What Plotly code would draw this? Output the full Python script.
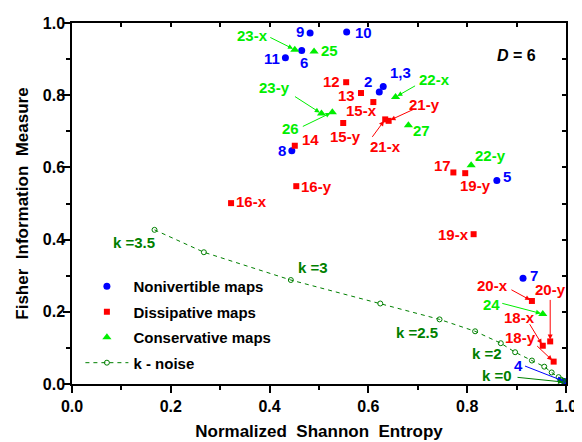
import plotly.graph_objects as go

# ---- data ----
nonivert_labels = ["9", "10", "6", "11", "2", "1,3", "8", "5", "7", "4"]
nonivert_x = [0.482, 0.556, 0.465, 0.432, 0.622, 0.630, 0.445, 0.860, 0.913, 0.997]
nonivert_y = [0.972, 0.975, 0.924, 0.904, 0.809, 0.824, 0.646, 0.564, 0.293, 0.007]

dissip_labels = ["12", "13", "15-x", "15-y", "14", "21-x", "21-y", "17", "19-y", "19-x",
                 "16-y", "16-x", "20-x", "20-y", "18-x", "18-y"]
dissip_x = [0.555, 0.585, 0.610, 0.549, 0.451, 0.634, 0.641, 0.772, 0.796, 0.813,
            0.454, 0.322, 0.931, 0.968, 0.953, 0.975]
dissip_y = [0.836, 0.806, 0.781, 0.723, 0.660, 0.733, 0.729, 0.586, 0.584, 0.415,
            0.548, 0.501, 0.230, 0.118, 0.106, 0.062]

conserv_labels = ["23-x", "25", "22-x", "23-y", "26", "27", "22-y", "24"]
conserv_x = [0.451, 0.490, 0.655, 0.505, 0.527, 0.681, 0.808, 0.953]
conserv_y = [0.926, 0.921, 0.795, 0.749, 0.753, 0.717, 0.606, 0.194]

noise_k = [3.5, 3.25, 3.0, 2.75, 2.5, 2.25, 2.0, 1.75, 1.5, 1.25, 1.0, 0.75, 0.5, 0.25, 0.0]
noise_x = [0.167, 0.267, 0.443, 0.624, 0.744, 0.816, 0.868, 0.897, 0.931, 0.956,
           0.971, 0.985, 0.990, 0.994, 0.998]
noise_y = [0.427, 0.365, 0.288, 0.223, 0.179, 0.146, 0.113, 0.088, 0.065, 0.048,
           0.032, 0.019, 0.012, 0.009, 0.005]
noise_label_k = [3.5, 3.0, 2.5, 2.0, 0.0]

x_ticks = [0.0, 0.2, 0.4, 0.6, 0.8, 1.0]
y_ticks = [0.0, 0.2, 0.4, 0.6, 0.8, 1.0]

# ---- styles ----
BLUE = "#0000FF"
RED = "#FF0000"
GREEN = "#00EE00"
DKGREEN = "#008000"
FONT = "Liberation Sans, Arial, sans-serif"

# label offsets (pixels): xshift, yshift (up positive)
blue_off = {"9": (-10, 2), "10": (17, 0), "6": (2, -12), "11": (-13, -1), "2": (-11, 10),
            "1,3": (17, 14), "8": (-10, 0), "5": (10, 4), "7": (11, 3), "4": (-46, 16)}
red_off = {"12": (-15, 1), "13": (-14, -2), "15-x": (-12, -8), "15-y": (2, -13), "14": (16, 6),
           "21-x": (0, -27), "21-y": (36, 16), "17": (-11, 7), "19-y": (10, -12),
           "19-x": (-20, 0), "16-y": (20, 0), "16-x": (20, 2), "20-x": (-39, 15),
           "20-y": (0, 52), "18-x": (-23, 28), "18-y": (-33, 24)}
green_off = {"23-x": (-42, 14), "25": (15, 1), "22-x": (39, 18), "23-y": (-47, 26),
             "26": (-42, -16), "27": (13, -5), "22-y": (19, 10), "24": (-51, 9)}
k_off = {3.5: (-21, -13), 3.0: (22, 13), 2.5: (-23, -13), 2.0: (-14, -10), 0.0: (-68, 7)}

# arrows: tail offset (screen pixels, down positive) from the point
blue_arrows = {"4": (-41, -16)}
red_arrows = {"21-x": (-14, 19), "21-y": (26, -12), "20-x": (-22, -12), "20-y": (0, -43),
              "18-x": (-14, -23), "18-y": (-18, -17)}
green_arrows = {"23-x": (-26, -13), "22-x": (21, -12), "23-y": (-28, -18), "26": (-31, 15),
                "24": (-42, -11)}
k_arrows = {0.0: (-49, -5)}

fig = go.Figure()

fig.add_trace(go.Scatter(x=nonivert_x, y=nonivert_y, mode="markers", name="Nonivertible maps",
                         marker=dict(symbol="circle", size=7, color=BLUE), legendgroup="a"))
fig.add_trace(go.Scatter(x=dissip_x, y=dissip_y, mode="markers", name="Dissipative maps",
                         marker=dict(symbol="square", size=6, color=RED), legendgroup="b"))
fig.add_trace(go.Scatter(x=conserv_x, y=conserv_y, mode="markers", name="Conservative maps",
                         marker=dict(symbol="triangle-up", size=8, color=GREEN), legendgroup="c"))
fig.add_trace(go.Scatter(x=noise_x, y=noise_y, mode="lines+markers", name="k - noise",
                         line=dict(color=DKGREEN, width=1, dash="4px,4px"),
                         marker=dict(symbol="circle-open", size=5, color=DKGREEN,
                                     line=dict(width=1, color=DKGREEN)),
                         legendgroup="d"))
# helper trace for the top/right inside-tick axes
fig.add_trace(go.Scatter(x=[], y=[], xaxis="x2", yaxis="y2", showlegend=False,
                         hoverinfo="skip"))

ann = []


def add_labels(labels, xs, ys, offs, arrows, color):
    for lab, x, y in zip(labels, xs, ys):
        if lab in arrows:
            ax, ay = arrows[lab]
            ann.append(dict(x=x, y=y, xref="x", yref="y", text="", showarrow=True,
                            ax=ax, ay=ay, arrowcolor=color, arrowhead=2, arrowsize=1,
                            arrowwidth=1, standoff=2))
        dx, dy = offs[lab]
        ann.append(dict(x=x, y=y, xref="x", yref="y", text=lab, showarrow=False,
                        xshift=dx, yshift=dy,
                        font=dict(family=FONT, size=15, color=color, weight="bold")))


add_labels(nonivert_labels, nonivert_x, nonivert_y, blue_off, blue_arrows, BLUE)
add_labels(dissip_labels, dissip_x, dissip_y, red_off, red_arrows, RED)
add_labels(conserv_labels, conserv_x, conserv_y, green_off, green_arrows, GREEN)

for k in noise_label_k:
    i = noise_k.index(k)
    kx, ky = noise_x[i], noise_y[i]
    if k in k_arrows:
        ax, ay = k_arrows[k]
        ann.append(dict(x=kx, y=ky, xref="x", yref="y", text="", showarrow=True,
                        ax=ax, ay=ay, arrowcolor=DKGREEN, arrowhead=2, arrowsize=1,
                        arrowwidth=1, standoff=2))
    dx, dy = k_off[k]
    ktxt = "k =" + (f"{k:g}")
    ann.append(dict(x=kx, y=ky, xref="x", yref="y", text=ktxt, showarrow=False,
                    xshift=dx, yshift=dy,
                    font=dict(family=FONT, size=15, color=DKGREEN, weight="bold")))

ann.append(dict(x=0.944, y=0.938, xref="paper", yref="paper", text="<i>D</i> = 6",
                showarrow=False, font=dict(family=FONT, size=16, color="black", weight="bold")))

axis_common = dict(range=[0, 1.0], showgrid=False, zeroline=False, showline=True,
                   linecolor="black", linewidth=1.5, automargin=False)

fig.update_layout(
    width=582, height=442,
    margin=dict(l=64, r=24, t=15, b=66),
    paper_bgcolor="white", plot_bgcolor="white",
    font=dict(family=FONT, size=15, color="black", weight="bold"),
    showlegend=True,
    legend=dict(x=0.017, y=0.316, xanchor="left", yanchor="top", bgcolor="rgba(0,0,0,0)",
                font=dict(family=FONT, size=15, color="black", weight="bold"),
                traceorder="grouped", tracegroupgap=3, itemwidth=43),
    xaxis=dict(**axis_common, tickmode="array", tickvals=x_ticks,
               ticktext=[f"{v:.1f}" for v in x_ticks],
               ticks="outside", ticklen=7, tickwidth=1.5, tickcolor="black",
               minor=dict(dtick=0.1, ticks="outside", ticklen=4, tickwidth=1.5, tickcolor="black"),
               tickfont=dict(family=FONT, size=16, color="black", weight="bold"),
               title=dict(text="Normalized\u00a0 Shannon\u00a0 Entropy", standoff=11,
                          font=dict(family=FONT, size=17, color="black", weight="bold"))),
    yaxis=dict(**axis_common, tickmode="array", tickvals=y_ticks,
               ticktext=[f"{v:.1f}" for v in y_ticks],
               ticks="outside", ticklen=7, tickwidth=1.5, tickcolor="black",
               ticklabelstandoff=-5,
               minor=dict(dtick=0.1, ticks="outside", ticklen=4, tickwidth=1.5, tickcolor="black"),
               tickfont=dict(family=FONT, size=16, color="black", weight="bold"),
               title=dict(text="Fisher\u00a0 Information\u00a0 Measure", standoff=10,
                          font=dict(family=FONT, size=17, color="black", weight="bold"))),
    xaxis2=dict(**axis_common, overlaying="x", side="top", anchor="y2",
                tickvals=x_ticks, showticklabels=False,
                ticks="inside", ticklen=4, tickwidth=1.5, tickcolor="black",
                minor=dict(dtick=0.1, ticks="inside", ticklen=4, tickwidth=1.5, tickcolor="black")),
    yaxis2=dict(**axis_common, overlaying="y", side="right", anchor="x2",
                tickvals=y_ticks, showticklabels=False,
                ticks="inside", ticklen=4, tickwidth=1.5, tickcolor="black",
                minor=dict(dtick=0.1, ticks="inside", ticklen=4, tickwidth=1.5, tickcolor="black")),
    annotations=ann,
)

fig.write_html("out.html")
